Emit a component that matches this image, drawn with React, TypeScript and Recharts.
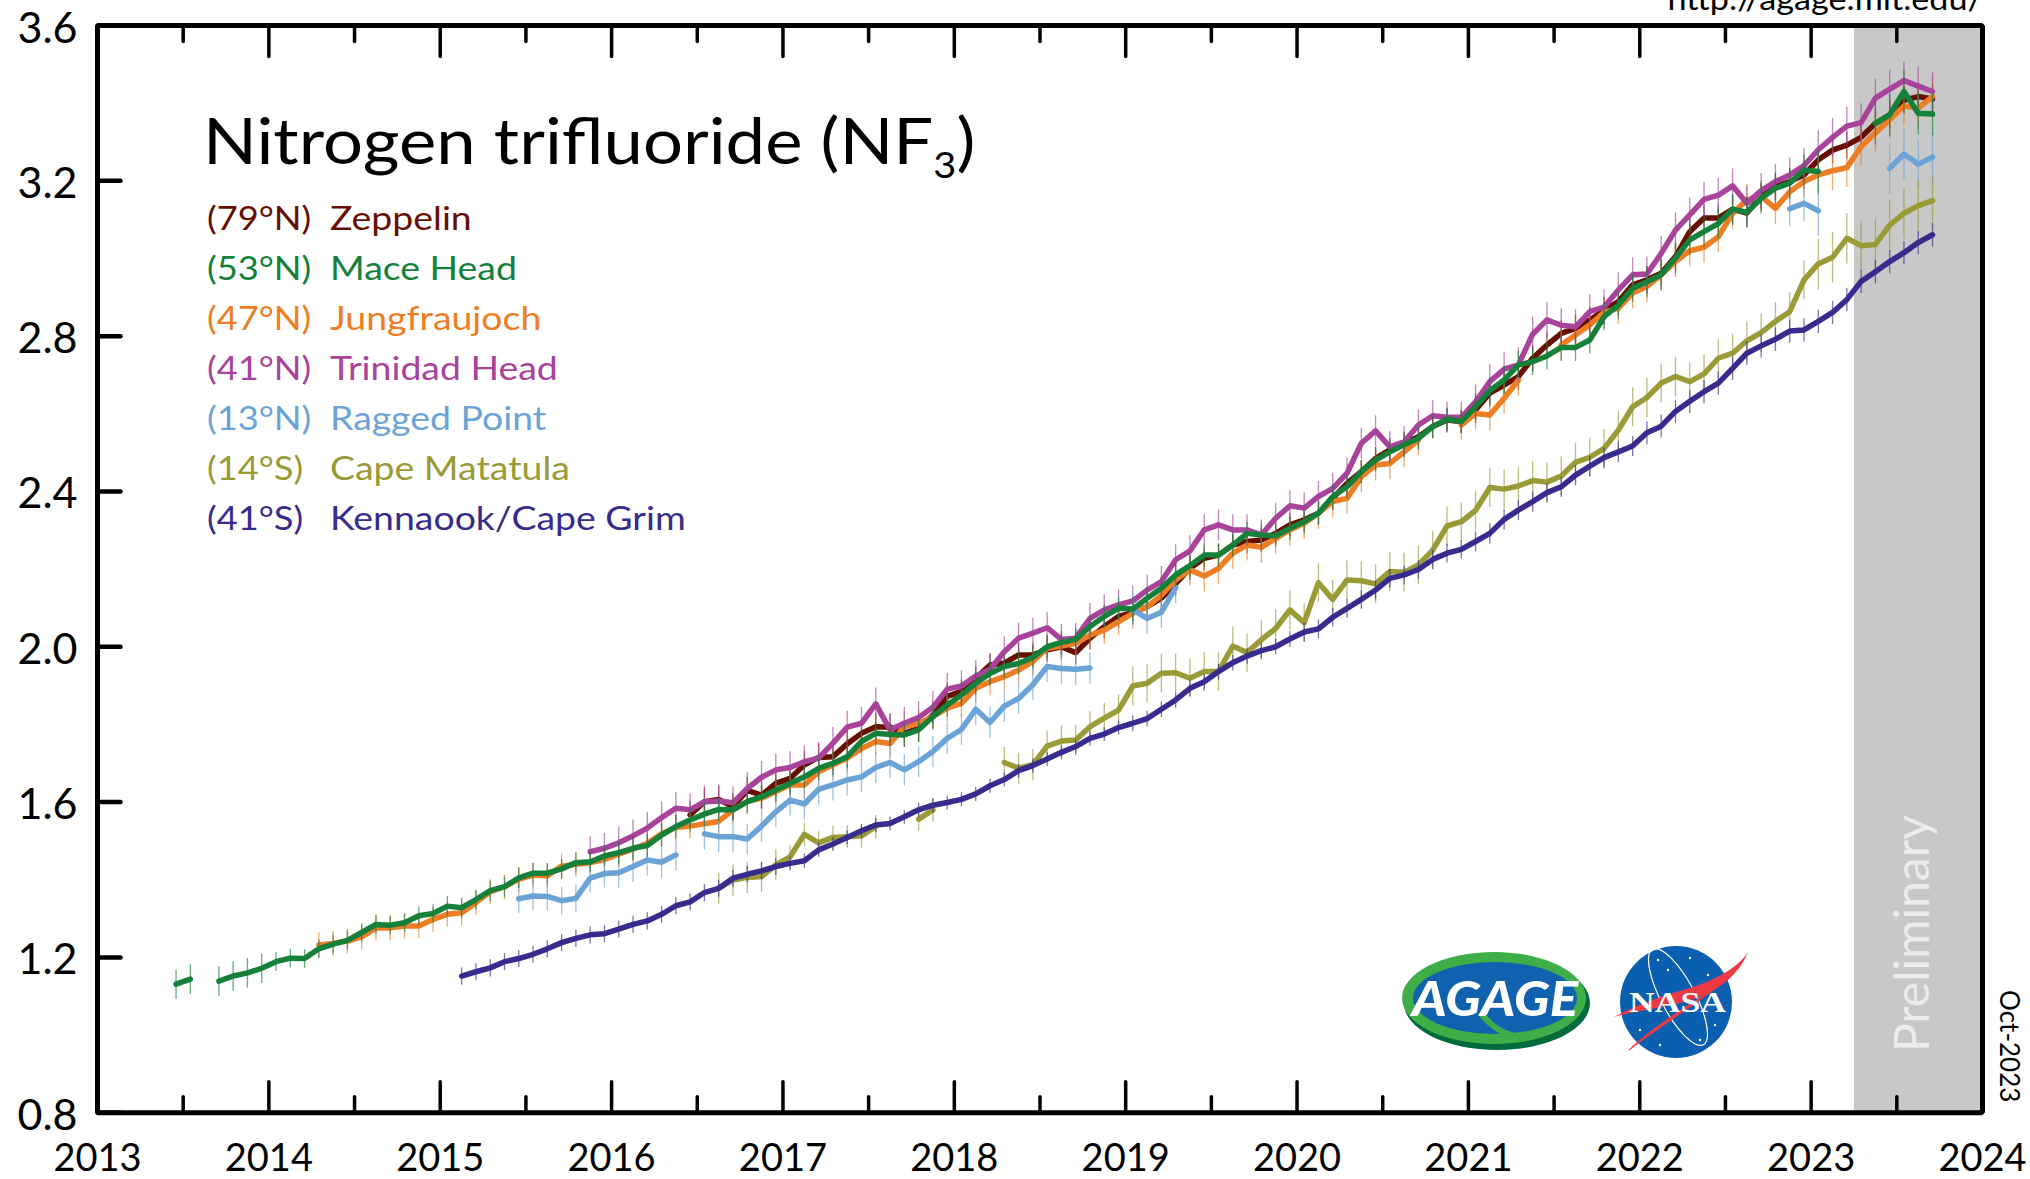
import {
  ErrorBar,
  Line,
  LineChart,
  ReferenceArea,
  XAxis,
  YAxis,
} from "recharts";

const FONT = "Lato, 'Open Sans', sans-serif";

const xTicks = [
  2013, 2013.5, 2014, 2014.5, 2015, 2015.5, 2016, 2016.5, 2017, 2017.5, 2018,
  2018.5, 2019, 2019.5, 2020, 2020.5, 2021, 2021.5, 2022, 2022.5, 2023, 2023.5,
  2024,
];
const yTicks = [0.8, 1.2, 1.6, 2.0, 2.4, 2.8, 3.2, 3.6];

const gap = (n: number) => new Array(n).fill(null);

// monthly means, rows line up with calendar years from 2014 on
const maceHeadStart = 5; // Jun 2013
const maceHead = [
  1.131, 1.144, null, 1.139, 1.152, 1.16, 1.172,
  1.189, 1.198, 1.197, 1.222, 1.234, 1.244, 1.264, 1.285, 1.283, 1.289, 1.307, 1.313,
  1.332, 1.328, 1.349, 1.372, 1.382, 1.405, 1.417, 1.417, 1.428, 1.444, 1.446, 1.461,
  1.47, 1.481, 1.488, 1.515, 1.537, 1.554, 1.569, 1.581, 1.58, 1.601, 1.614, 1.631,
  1.648, 1.665, 1.687, 1.7, 1.717, 1.756, 1.777, 1.774, 1.773, 1.786, 1.82, 1.85,
  1.876, 1.906, 1.931, 1.949, 1.957, 1.973, 2.0, 2.011, 2.019, 2.052, 2.078, 2.099,
  2.097, 2.125, 2.151, 2.185, 2.209, 2.236, 2.236, 2.262, 2.292, 2.288, 2.286, 2.305,
  2.322, 2.344, 2.387, 2.412, 2.451, 2.481, 2.502, 2.52, 2.537, 2.567, 2.586, 2.58,
  2.618, 2.66, 2.687, 2.726, 2.734, 2.749, 2.771, 2.771, 2.79, 2.85, 2.88, 2.923,
  2.94, 2.958, 3.001, 3.048, 3.069, 3.09, 3.127, 3.119, 3.155, 3.181, 3.194, 3.228,
  3.224, null, null, null, 3.348, 3.37, 3.43, 3.374, 3.372,
];

const zeppelinStart = 41;
const zeppelin = [
  1.567, 1.601, 1.607, 1.588, 1.63, 1.618, 1.648,
  1.661, 1.696, 1.715, 1.717, 1.75, 1.777, 1.794, 1.793, 1.777, 1.79, 1.824, 1.872,
  1.885, 1.919, 1.953, 1.958, 1.979, 1.979, 1.992, 2.0, 1.985, 2.022, 2.052, 2.078,
  2.088, 2.103, 2.125, 2.163, 2.202, 2.228, 2.236, 2.262, 2.271, 2.275, 2.292, 2.314,
  2.327, 2.344, 2.382, 2.421, 2.451, 2.485, 2.507, 2.524, 2.541, 2.567, 2.584, 2.58,
  2.61, 2.653, 2.674, 2.696, 2.743, 2.777, 2.807, 2.82, 2.841, 2.867, 2.889, 2.932,
  2.945, 2.962, 3.005, 3.069, 3.104, 3.104, 3.127, 3.117, 3.16, 3.185, 3.198, 3.215,
  3.254, 3.279, 3.292, 3.312, 3.348, 3.37, 3.408, 3.417, 3.411,
];

const jungfraujochStart = 15;
const jungfraujoch = [
  1.232, 1.236, 1.242, 1.253, 1.276, 1.276, 1.281, 1.281, 1.298,
  1.311, 1.315, 1.341, 1.369, 1.382, 1.401, 1.412, 1.41, 1.435, 1.44, 1.444, 1.452,
  1.466, 1.479, 1.494, 1.518, 1.535, 1.538, 1.544, 1.55, 1.58, 1.601, 1.61, 1.627,
  1.644, 1.644, 1.678, 1.696, 1.713, 1.738, 1.756, 1.751, 1.794, 1.803, 1.82, 1.842,
  1.854, 1.893, 1.91, 1.923, 1.94, 1.962, 1.996, 2.002, 2.009, 2.03, 2.043, 2.065,
  2.086, 2.103, 2.133, 2.172, 2.198, 2.182, 2.202, 2.241, 2.262, 2.256, 2.279, 2.301,
  2.318, 2.344, 2.374, 2.382, 2.438, 2.468, 2.472, 2.502, 2.533, null, null, 2.571,
  2.601, 2.597, 2.64, 2.687, null, null, 2.777, 2.803, 2.829, 2.861, 2.872, 2.911,
  2.928, 2.958, 2.992, 3.02, 3.029, 3.056, 3.116, 3.151, 3.16, 3.129, 3.172, 3.198,
  3.215, 3.226, 3.234, 3.288, 3.324, 3.357, 3.393, 3.387, 3.417,
];

const trinidadStart = 34;
const trinidad = [
  1.472, 1.481,
  1.495, 1.513, 1.533, 1.56, 1.584, 1.58, 1.601, 1.603, 1.598, 1.635, 1.664, 1.683,
  1.689, 1.704, 1.713, 1.752, 1.793, 1.803, 1.853, 1.786, 1.803, 1.818, 1.844, 1.891,
  1.899, 1.925, 1.942, 1.987, 2.022, 2.035, 2.049, 2.019, 2.022, 2.073, 2.095, 2.108,
  2.118, 2.146, 2.168, 2.224, 2.247, 2.301, 2.314, 2.301, 2.301, 2.288, 2.331, 2.363,
  2.357, 2.387, 2.408, 2.447, 2.524, 2.556, 2.515, 2.528, 2.571, 2.595, 2.591, 2.591,
  2.631, 2.683, 2.715, 2.726, 2.805, 2.842, 2.828, 2.824, 2.863, 2.875, 2.919, 2.958,
  2.96, 3.013, 3.073, 3.112, 3.152, 3.163, 3.187, 3.142, 3.175, 3.198, 3.215, 3.239,
  3.28, 3.312, 3.341, 3.35, 3.413, 3.436, 3.458, 3.444, 3.43,
];

const raggedStart = 29;
const ragged = [
  1.351, 1.358, 1.357, 1.346, 1.352, 1.404, 1.416,
  1.418, 1.434, 1.451, 1.445, 1.464, null, 1.518, 1.511, 1.511, 1.505, 1.538, 1.575,
  1.605, 1.595, 1.633, 1.644, 1.657, 1.665, 1.689, 1.702, 1.683, 1.704, 1.73, 1.764,
  1.787, 1.839, 1.805, 1.847, 1.867, 1.902, 1.949, 1.944, 1.942, 1.945, null, null,
  2.095, 2.073, 2.089, 2.152, ...gap(42),
  3.128, 3.142, 3.123, null, null, null, null, 3.232, 3.269, 3.243, 3.261,
];

const matatulaStart = 43;
const matatula = [
  1.378, 1.399, 1.406, 1.408, 1.438,
  1.459, 1.517, 1.495, 1.509, 1.511, 1.513, 1.537, null, null, 1.556, 1.58, null,
  null, null, null, 1.702, 1.687, 1.696, 1.744, 1.757, 1.76, 1.794, 1.816, 1.837,
  1.899, 1.906, 1.932, 1.933, 1.919, 1.936, 1.936, 2.002, 1.985, 2.018, 2.047, 2.095,
  2.062, 2.165, 2.122, 2.172, 2.17, 2.162, 2.194, 2.192, 2.211, 2.249, 2.311, 2.322,
  2.351, 2.41, 2.406, 2.414, 2.428, 2.424, 2.44, 2.475, 2.488, 2.511, 2.558, 2.618,
  2.642, 2.679, 2.696, 2.683, 2.703, 2.743, 2.756, 2.788, 2.809, 2.838, 2.863, 2.945,
  2.986, 3.003, 3.052, 3.033, 3.036, 3.086, 3.116, 3.136, 3.149,
];

const capeGrimStart = 25;
const capeGrim = [
  1.152, 1.163, 1.173, 1.189, 1.197, 1.208, 1.222, 1.238, 1.249, 1.258, 1.261,
  1.273, 1.285, 1.294, 1.311, 1.333, 1.343, 1.367, 1.378, 1.404, 1.414, 1.423, 1.434,
  1.442, 1.449, 1.477, 1.492, 1.509, 1.526, 1.541, 1.545, 1.562, 1.58, 1.592, 1.599,
  1.607, 1.621, 1.642, 1.658, 1.681, 1.694, 1.711, 1.728, 1.743, 1.764, 1.775, 1.792,
  1.803, 1.815, 1.839, 1.863, 1.893, 1.91, 1.936, 1.959, 1.976, 1.99, 2.0, 2.02,
  2.038, 2.046, 2.076, 2.099, 2.122, 2.146, 2.176, 2.185, 2.199, 2.225, 2.241, 2.251,
  2.271, 2.292, 2.328, 2.352, 2.374, 2.397, 2.412, 2.442, 2.465, 2.487, 2.502, 2.517,
  2.551, 2.568, 2.606, 2.632, 2.657, 2.679, 2.717, 2.756, 2.775, 2.792, 2.813, 2.816,
  2.838, 2.861, 2.894, 2.941, 2.966, 2.992, 3.015, 3.041, 3.061,
];

// error half-widths, one per calendar year 2013..2023
const maceHeadErr = [0.038, 0.024, 0.026, 0.03, 0.03, 0.03, 0.03, 0.03, 0.035, 0.04, 0.055];
const zeppelinErr = [0, 0, 0, 0.035, 0.035, 0.03, 0.03, 0.03, 0.035, 0.035, 0.035];
const jungfraujochErr = [0.03, 0.032, 0.032, 0.032, 0.035, 0.035, 0.04, 0.04, 0.04, 0.04, 0.05];
const trinidadErr = [0, 0, 0.04, 0.042, 0.042, 0.04, 0.04, 0.04, 0.045, 0.045, 0.05];
const raggedErr = [0, 0, 0.036, 0.04, 0.04, 0.04, 0.04, 0.04, 0.04, 0.045, 0.065];
const matatulaErr = [0, 0, 0, 0.04, 0.03, 0.04, 0.05, 0.05, 0.05, 0.05, 0.065];
const capeGrimErr = [0, 0, 0.022, 0.022, 0.018, 0.018, 0.02, 0.024, 0.026, 0.03, 0.03];

const months = Array.from({ length: 129 }, (_, i) => 2013 + (i + 0.5) / 12);

const stations = [
  { key: "zeppelin", lat: "(79°N)", name: "Zeppelin", color: "#660f00", start: zeppelinStart, values: zeppelin, err: zeppelinErr },
  { key: "maceHead", lat: "(53°N)", name: "Mace Head", color: "#14803a", start: maceHeadStart, values: maceHead, err: maceHeadErr },
  { key: "jungfraujoch", lat: "(47°N)", name: "Jungfraujoch", color: "#ee7d23", start: jungfraujochStart, values: jungfraujoch, err: jungfraujochErr },
  { key: "trinidad", lat: "(41°N)", name: "Trinidad Head", color: "#a9429b", start: trinidadStart, values: trinidad, err: trinidadErr },
  { key: "ragged", lat: "(13°N)", name: "Ragged Point", color: "#6ba3d6", start: raggedStart, values: ragged, err: raggedErr },
  { key: "matatula", lat: "(14°S)", name: "Cape Matatula", color: "#9a9a37", start: matatulaStart, values: matatula, err: matatulaErr },
  { key: "capeGrim", lat: "(41°S)", name: "Kennaook/Cape Grim", color: "#372b8e", start: capeGrimStart, values: capeGrim, err: capeGrimErr },
];

// mace head sits on top of everything in the original
const drawOrder = ["zeppelin", "jungfraujoch", "trinidad", "ragged", "matatula", "capeGrim", "maceHead"];

const rows = months.map((x, i) => {
  const row: any = { x };
  stations.forEach((s) => {
    const v = s.values[i - s.start];
    row[s.key] = v === undefined ? null : v;
    row[s.key + "Err"] = v == null ? null : s.err[Math.floor(x) - 2013];
  });
  return row;
});

const BottomTick = ({ x, y, payload }: any) => {
  const major = Number.isInteger(payload.value);
  return (
    <g>
      <line x1={x} x2={x} y1={y} y2={y - (major ? 31 : 16)} stroke="#000" strokeWidth={3.5} strokeLinecap="round" />
      {major && (
        <text x={x} y={y + 58} textAnchor="middle" fontFamily={FONT} fontSize={38} fill="#000">
          {payload.value}
        </text>
      )}
    </g>
  );
};

const TopTick = ({ x, y, payload }: any) => {
  const major = Number.isInteger(payload.value);
  return <line x1={x} x2={x} y1={y} y2={y + (major ? 31 : 16)} stroke="#000" strokeWidth={3.5} strokeLinecap="round" />;
};

const LeftTick = ({ x, y, payload }: any) => (
  <g>
    <line x1={x} x2={x + 23} y1={y} y2={y} stroke="#000" strokeWidth={4.5} strokeLinecap="round" />
    <text x={x - 20} y={y + 17} textAnchor="end" fontFamily={FONT} fontSize={43} fill="#000">
      {payload.value.toFixed(1)}
    </text>
  </g>
);

const RightTick = ({ x, y }: any) => (
  <line x1={x} x2={x - 23} y1={y} y2={y} stroke="#000" strokeWidth={4.5} strokeLinecap="round" />
);

function Logos() {
  return (
    <g>
      <ellipse cx={1497} cy={1003} rx={93} ry={47} fill="#006b3c" />
      <ellipse cx={1494} cy={998} rx={92} ry={46} fill="#3fae49" />
      <ellipse cx={1495} cy={998} rx={82} ry={36} fill="#1062ae" />
      <path d="M1480 1012 C1500 1040 1530 1040 1535 1034" fill="none" stroke="#3fae49" strokeWidth={6} />
      <text x={1412} y={1016} fontFamily={FONT} fontStyle="italic" fontWeight={900} fontSize={47} fill="#fff" textLength={166} lengthAdjust="spacingAndGlyphs">
        AGAGE
      </text>
      <circle cx={1676} cy={1002} r={56} fill="#0b5fb0" />
      <ellipse cx={1678} cy={997} rx={17} ry={54} fill="none" stroke="#fff" strokeWidth={1.2} transform="rotate(-28 1678 997)" />
      {[[1658, 960], [1690, 958], [1708, 975], [1640, 1030], [1660, 1045], [1715, 1025], [1700, 1040], [1668, 970]].map(([cx, cy]) => (
        <circle key={cx} cx={cx} cy={cy} r={1.2} fill="#fff" />
      ))}
      <path d="M1748 952 C1735 985 1700 1000 1670 1005 C1650 1010 1630 1012 1614 1017 C1640 1003 1665 995 1690 988 C1715 980 1738 968 1748 952 Z" fill="#ee3a43" />
      <path d="M1629 1050 C1650 1030 1680 1010 1720 985 C1690 1008 1655 1030 1629 1050 Z" fill="#ee3a43" stroke="#ee3a43" strokeWidth={1} />
      <text x={1629} y={1012} fontFamily="'Liberation Serif', serif" fontWeight={700} fontSize={30} fill="#fff" textLength={97} lengthAdjust="spacingAndGlyphs">
        NASA
      </text>
    </g>
  );
}

export default function App() {
  return (
    <div style={{ position: "absolute", left: 0, top: 0, width: 2030, height: 1179, overflow: "hidden", background: "#fff" }}>
      <LineChart
        width={2030}
        height={1179}
        data={rows}
        margin={{ top: 24.5, right: 46.5, bottom: 65.3, left: 96.5 }}
      >
        <XAxis xAxisId="bottom" dataKey="x" type="number" domain={[2013, 2024]} ticks={xTicks} interval={0} height={1} tickSize={0} tickMargin={0} tick={BottomTick} tickLine={false} axisLine={{ stroke: "#000", strokeWidth: 5 }} />
        <XAxis xAxisId="top" orientation="top" dataKey="x" type="number" domain={[2013, 2024]} ticks={xTicks} interval={0} height={1} tickSize={0} tickMargin={0} tick={TopTick} tickLine={false} axisLine={{ stroke: "#000", strokeWidth: 5 }} />
        <YAxis yAxisId="left" type="number" domain={[0.8, 3.6]} ticks={yTicks} interval={0} width={1} tickSize={0} tickMargin={0} tick={LeftTick} tickLine={false} axisLine={{ stroke: "#000", strokeWidth: 5 }} />
        <YAxis yAxisId="right" orientation="right" type="number" domain={[0.8, 3.6]} ticks={yTicks} interval={0} width={1} tickSize={0} tickMargin={0} tick={RightTick} tickLine={false} axisLine={{ stroke: "#000", strokeWidth: 5 }} />
        <ReferenceArea xAxisId="bottom" yAxisId="left" x1={2023.25} x2={2024} y1={0.8} y2={3.6} fill="#c8c8c8" fillOpacity={1} stroke="none" />
        {drawOrder.map((key) => {
          const s = stations.find((st) => st.key === key)!;
          return (
            <Line
              key={key}
              xAxisId="bottom"
              yAxisId="left"
              type="linear"
              dataKey={key}
              stroke={s.color}
              strokeWidth={5.5}
              strokeLinecap="round"
              strokeLinejoin="round"
              dot={false}
              connectNulls={false}
              isAnimationActive={false}
            >
              <ErrorBar dataKey={key + "Err"} direction="y" width={0} stroke={s.color} strokeWidth={1.3} opacity={0.65} isAnimationActive={false} />
            </Line>
          );
        })}
      </LineChart>
      <svg width={2030} height={1179} style={{ position: "absolute", left: 0, top: 0 }}>
        <g transform="translate(203 164) scale(1.104 1)">
          <text x={0} y={0} fontFamily={FONT} fontSize={64} fill="#000">
            Nitrogen trifluoride (NF<tspan dy={14} fontSize={36}>3</tspan><tspan dy={-14}>)</tspan>
          </text>
        </g>
        {stations.map((s, i) => (
          <g key={s.key} fontFamily={FONT} fontSize={33} fill={s.color}>
            <text transform={`translate(207 ${230 + i * 50}) scale(1.1 1)`}>{s.lat}</text>
            <text transform={`translate(330 ${230 + i * 50}) scale(1.134 1)`}>{s.name}</text>
          </g>
        ))}
        <text transform="translate(1983 10) scale(1.14 1)" textAnchor="end" fontFamily={FONT} fontSize={30} fill="#000">
          http://agage.mit.edu/
        </text>
        <text transform="translate(1929 1052) rotate(-90)" fontFamily={FONT} fontSize={48} fill="#ececec">
          Preliminary
        </text>
        <text transform="translate(2000 990) rotate(90)" fontFamily={FONT} fontSize={26} fill="#000">
          Oct-2023
        </text>
        <Logos />
      </svg>
    </div>
  );
}
